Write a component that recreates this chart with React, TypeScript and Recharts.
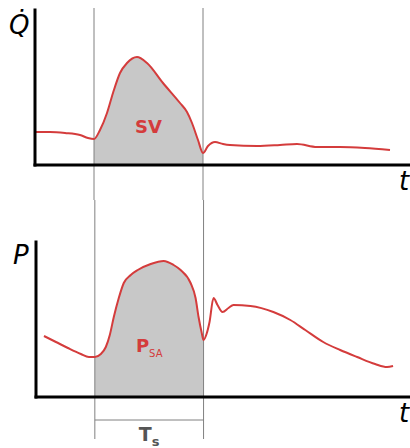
import {
  ComposedChart,
  Line,
  Area,
  XAxis,
  YAxis,
  ReferenceArea,
} from 'recharts';

// time axis (arbitrary units), systole window
const systole = [59, 168];

// flow Q̇ over time
const flowT = [0, 15, 30, 45, 53, 59, 65, 72, 78, 85, 92, 102, 112, 128, 145, 152, 157, 163, 168, 173, 180, 188, 195, 222, 245, 262, 282, 305, 330, 355];
const flowQ = [33, 33, 32, 30, 27, 26, 35, 52, 72, 92, 102, 108, 102, 82, 62, 53, 42, 25, 12, 19, 23, 21, 20, 19, 20, 21, 18, 18, 17, 15];

// pressure P over time
const pressT = [8, 20, 32, 45, 53, 59, 65, 70, 74, 78, 83, 88, 95, 102, 115, 128, 138, 145, 155, 160, 163, 166, 168, 171, 174, 178, 182, 187, 193, 198, 215, 238, 255, 270, 288, 305, 322, 340, 352, 358];
const pressP = [61, 55, 49, 43, 40, 40, 43, 50, 62, 80, 99, 114, 122, 127, 133, 136, 132, 127, 114, 99, 80, 65, 57, 63, 75, 99, 92, 85, 89, 92, 91, 85, 77, 67, 55, 47, 40, 33, 30, 31];

const RED = '#d43c3c';
const GRAY_FILL = '#c8c8c8';
const GUIDE = '#808080';
const FONT = '"DejaVu Sans", sans-serif';

const inSystole = (t: number) => t >= systole[0] && t <= systole[1];

const flowRows = flowT.map((t, i) => ({ t, v: flowQ[i], s: inSystole(t) ? flowQ[i] : null }));
const pressRows = pressT.map((t, i) => ({ t, v: pressP[i], s: inSystole(t) ? pressP[i] : null }));

const axisLine = { stroke: '#000', strokeWidth: 3, strokeLinecap: 'square' as const };

export default function App() {
  return (
    <div style={{ position: 'absolute', left: 0, top: 0, width: 410, height: 448, background: '#fff' }}>
      {/* flow panel */}
      <ComposedChart width={410} height={200} data={flowRows} margin={{ top: 10, right: 0, bottom: 34, left: 34 }}>
        <XAxis dataKey="t" type="number" domain={[0, 375]} tick={false} tickLine={false} axisLine={axisLine} height={1} />
        <YAxis domain={[0, 155]} tick={false} tickLine={false} axisLine={axisLine} width={1} />
        <Area dataKey="s" type="monotone" stroke="none" fill={GRAY_FILL} fillOpacity={1} isAnimationActive={false} />
        <Line dataKey="v" type="monotone" stroke={RED} strokeWidth={2} dot={false} isAnimationActive={false} />
        <ReferenceArea
          x1={systole[0]}
          x2={systole[1]}
          shape={(p: any) => (
            <g>
              <line x1={p.x} x2={p.x} y1={8} y2={200} stroke={GUIDE} strokeWidth={1} />
              <line x1={p.x + p.width} x2={p.x + p.width} y1={8} y2={200} stroke={GUIDE} strokeWidth={1} />
              <text x={p.x + p.width / 2} y={133} textAnchor="middle" fill={RED} fontFamily={FONT} fontWeight="bold" fontSize={18}>
                SV
              </text>
            </g>
          )}
        />
        <text x={9} y={34} fontFamily={FONT} fontStyle="italic" fontSize={26} fill="#000">
          Q̇
        </text>
        <text x={399} y={190} fontFamily={FONT} fontStyle="italic" fontSize={26} fill="#000">
          t
        </text>
      </ComposedChart>

      {/* pressure panel */}
      <ComposedChart width={410} height={248} data={pressRows} margin={{ top: 42, right: 0, bottom: 50, left: 35 }}>
        <XAxis dataKey="t" type="number" domain={[0, 375]} tick={false} tickLine={false} axisLine={axisLine} height={1} />
        <YAxis domain={[0, 155]} tick={false} tickLine={false} axisLine={axisLine} width={1} />
        <Area dataKey="s" type="monotone" stroke="none" fill={GRAY_FILL} fillOpacity={1} isAnimationActive={false} />
        <Line dataKey="v" type="monotone" stroke={RED} strokeWidth={2} dot={false} isAnimationActive={false} />
        <ReferenceArea
          x1={systole[0]}
          x2={systole[1]}
          shape={(p: any) => (
            <g>
              <line x1={p.x} x2={p.x} y1={0} y2={239} stroke={GUIDE} strokeWidth={1} />
              <line x1={p.x + p.width} x2={p.x + p.width} y1={0} y2={239} stroke={GUIDE} strokeWidth={1} />
              <line x1={p.x} x2={p.x + p.width} y1={220} y2={220} stroke={GUIDE} strokeWidth={1} />
              <text x={p.x + p.width / 2} y={152} textAnchor="middle" fill={RED} fontFamily={FONT}>
                <tspan fontWeight="bold" fontSize={18}>P</tspan>
                <tspan fontSize={10} dy={5}>SA</tspan>
              </text>
              <text x={p.x + p.width / 2} y={241} textAnchor="middle" fill="#555" fontFamily={FONT} fontWeight="bold">
                <tspan fontSize={19}>T</tspan>
                <tspan fontSize={13} dy={5}>s</tspan>
              </text>
            </g>
          )}
        />
        <text x={13} y={64} fontFamily={FONT} fontStyle="italic" fontSize={26} fill="#000">
          P
        </text>
        <text x={399} y={222} fontFamily={FONT} fontStyle="italic" fontSize={26} fill="#000">
          t
        </text>
      </ComposedChart>
    </div>
  );
}
